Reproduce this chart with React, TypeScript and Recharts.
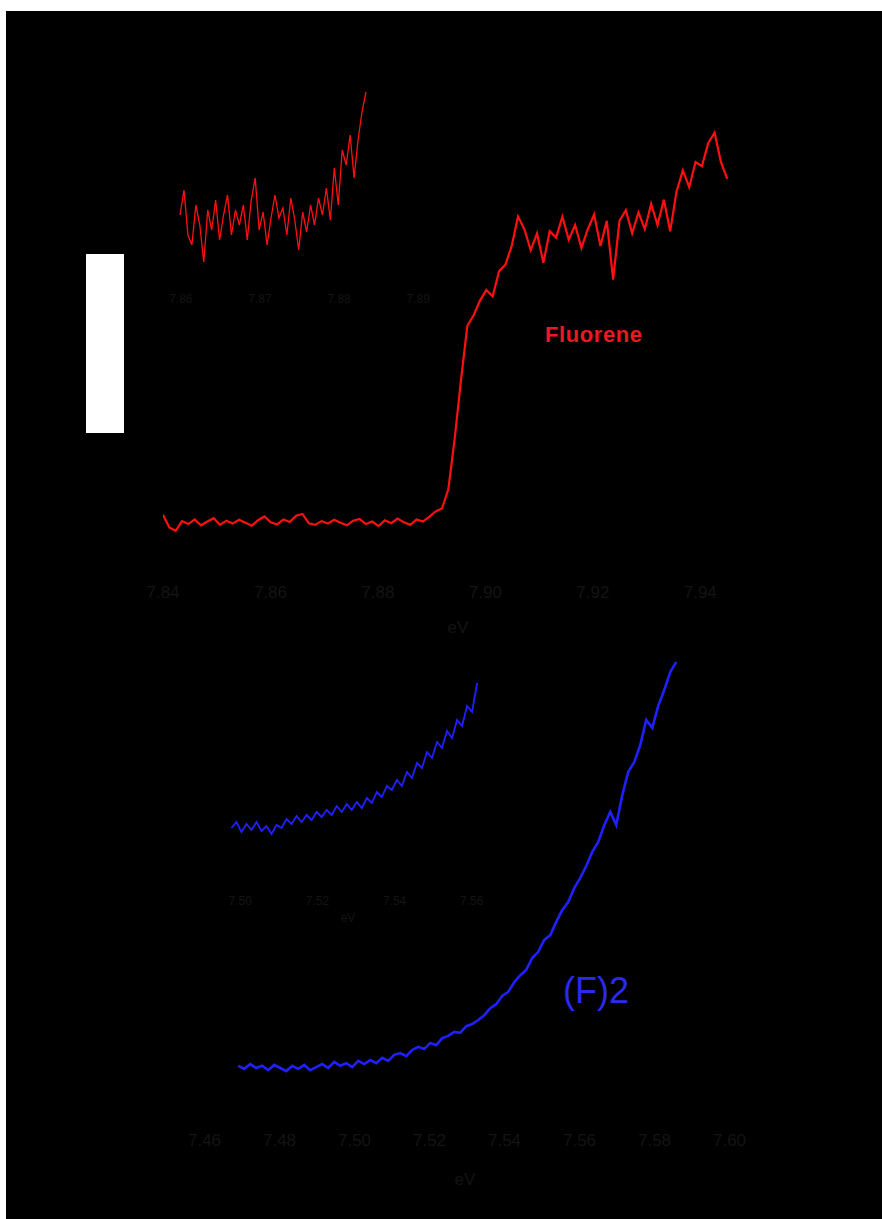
import { LineChart, Line, XAxis, YAxis } from "recharts";

const W = 882;
const H = 1219;

// Fluorene, main panel (eV vs. signal, arbitrary units 0-100)
const fluoreneTicks = [7.84, 7.86, 7.88, 7.9, 7.92, 7.94];
const fluoreneStart = 7.84;
const fluoreneStep = 0.00118;
const fluoreneSignal = [
  6.0, 3.0, 2.2, 4.5, 3.8, 4.9, 3.5, 4.4, 5.2, 3.6, 4.6, 3.9, 4.8, 4.1, 3.4, 4.7, 5.6, 4.2, 3.7, 4.9,
  4.3, 5.8, 6.2, 4.0, 3.6, 4.5, 3.9, 4.8, 4.1, 3.5, 4.6, 5.0, 3.8, 4.4, 3.3, 4.7, 4.0, 5.1, 4.2, 3.6,
  4.9, 4.4, 5.5, 6.8, 7.5, 12, 24, 38, 51, 53.5, 57, 59.5, 58, 64, 65.5, 70, 77, 74, 69, 73,
  66, 73.5, 72, 77, 71.5, 75, 69.5, 74, 77.5, 70, 76, 62, 76, 78.5, 73, 78, 74, 80, 75, 81,
  73.5, 83, 88, 84, 90, 89, 94.5, 97, 90, 86,
];

// Fluorene, onset inset
const fluoreneInsetTicks = [7.86, 7.87, 7.88, 7.89];
const fluoreneInsetStart = 7.8599;
const fluoreneInsetStep = 0.0005;
const fluoreneInsetSignal = [
  32.5, 45, 22.5, 17.5, 37.5, 27.5, 9, 35, 25, 40, 20, 32.5, 42.5, 22.5, 35, 27.5, 37.5, 20, 40, 51,
  25, 34, 17.5, 31, 42.5, 31, 36, 22.5, 41, 30, 15, 34, 24, 37.5, 27.5, 41, 32.5, 46, 30, 56,
  37.5, 65, 57.5, 72.5, 51, 70, 84, 94,
];

// (F)2, onset inset
const dimerInsetTicks = [7.5, 7.52, 7.54, 7.56];
const dimerInsetStart = 7.4977;
const dimerInsetStep = 0.0013;
const dimerInsetSignal = [
  21, 24, 19, 23, 20, 24, 19.5, 22, 18, 22.5, 21, 25.5, 23, 27, 24, 27.5, 25, 29, 26.5, 30,
  27.5, 32, 29, 33, 30, 34, 31, 36, 33.5, 39, 36.5, 42, 40, 45, 42, 49, 46, 53.5, 51, 59,
  56, 64, 61, 69.5, 66, 75, 72, 82, 79, 93.5,
];

// (F)2, main panel
const dimerTicks = [7.46, 7.48, 7.5, 7.52, 7.54, 7.56, 7.58, 7.6];
const dimerStart = 7.469;
const dimerStep = 0.0016;
const dimerSignal = [
  5.5, 4.8, 5.9, 5.0, 5.5, 4.5, 5.7, 5.0, 4.3, 5.5, 4.8, 5.7, 4.5, 5.2, 5.9, 5.0, 6.4, 5.5, 6.1, 5.2,
  6.6, 5.9, 6.8, 6.1, 7.3, 6.6, 8.0, 8.4, 7.7, 9.1, 9.8, 9.3, 10.7, 10.2, 11.8, 12.3, 13.2, 13.0, 14.5, 15.0,
  15.9, 17.0, 18.6, 19.5, 21.4, 22.3, 24.5, 26.1, 27.3, 30.0, 31.4, 34.1, 35.2, 38.2, 40.9, 42.7, 45.9, 48.2, 50.9, 54.1,
  56.4, 60.2, 63.2, 60.2, 67.0, 72.3, 74.5, 78.4, 84.1, 82.3, 87.3, 90.9, 95.0, 97.3,
];

const toRows = (start: number, step: number, values: number[]) =>
  values.map((v, i) => ({ e: +(start + i * step).toFixed(5), v }));

type PanelProps = {
  rows: { e: number; v: number }[];
  color: string;
  strokeWidth: number;
  domain: [number, number];
  ticks: number[];
  margin: { top: number; right: number; bottom: number; left: number };
  axisHeight: number;
  tickMargin: number;
  fontSize: number;
};

function Panel(p: PanelProps) {
  return (
    <div style={{ position: "absolute", left: 0, top: 0, pointerEvents: "none" }}>
      <LineChart width={W} height={H} data={p.rows} margin={p.margin}>
        <XAxis
          dataKey="e"
          type="number"
          domain={p.domain}
          ticks={p.ticks}
          allowDataOverflow
          axisLine={false}
          tickLine={false}
          tickSize={0}
          height={p.axisHeight}
          tickMargin={p.tickMargin}
          interval={0}
          tickFormatter={(t) => Number(t).toFixed(2)}
          tick={{ fill: "#141414", fontSize: p.fontSize, fontFamily: "Liberation Sans, Arial, sans-serif" }}
        />
        <YAxis hide domain={[0, 100]} />
        <Line
          dataKey="v"
          type="linear"
          stroke={p.color}
          strokeWidth={p.strokeWidth}
          dot={false}
          isAnimationActive={false}
        />
      </LineChart>
    </div>
  );
}

const label = (fontSize: number): React.CSSProperties => ({
  position: "absolute",
  fontFamily: "Liberation Sans, Arial, sans-serif",
  fontSize,
  lineHeight: 1,
  whiteSpace: "nowrap",
});

export default function App() {
  return (
    <div style={{ position: "absolute", left: 0, top: 0, width: W, height: H, overflow: "hidden" }}>
      <div style={{ position: "absolute", left: 6, top: 11, width: W - 6, height: H - 11, background: "#000" }} />
      <div style={{ position: "absolute", left: 86, top: 254, width: 38, height: 179, background: "#fff" }} />

      <Panel
        rows={toRows(fluoreneStart, fluoreneStep, fluoreneSignal)}
        color="#ff1010"
        strokeWidth={2.2}
        domain={[7.84, 7.95]}
        ticks={fluoreneTicks}
        margin={{ top: 120, right: 128, bottom: 619, left: 163 }}
        axisHeight={60}
        tickMargin={46}
        fontSize={17}
      />
      <Panel
        rows={toRows(fluoreneInsetStart, fluoreneInsetStep, fluoreneInsetSignal)}
        color="#ff1010"
        strokeWidth={1.3}
        domain={[7.858, 7.892]}
        ticks={fluoreneInsetTicks}
        margin={{ top: 80, right: 448, bottom: 909, left: 165 }}
        axisHeight={30}
        tickMargin={14}
        fontSize={12}
      />
      <Panel
        rows={toRows(dimerInsetStart, dimerInsetStep, dimerInsetSignal)}
        color="#2020ff"
        strokeWidth={1.8}
        domain={[7.495, 7.565]}
        ticks={dimerInsetTicks}
        margin={{ top: 670, right: 391, bottom: 319, left: 221 }}
        axisHeight={30}
        tickMargin={26}
        fontSize={12}
      />
      <Panel
        rows={toRows(dimerStart, dimerStep, dimerSignal)}
        color="#2020ff"
        strokeWidth={2.6}
        domain={[7.45, 7.63]}
        ticks={dimerTicks}
        margin={{ top: 650, right: 40, bottom: 59, left: 167 }}
        axisHeight={70}
        tickMargin={44}
        fontSize={17}
      />

      <div style={{ ...label(22), left: 545, top: 324, color: "#ee1820", fontWeight: 700, letterSpacing: 0.6 }}>Fluorene</div>
      <div style={{ ...label(36), left: 563, top: 973, color: "#2a2aee" }}>(F)2</div>
      <div style={{ ...label(17), left: 458, top: 619, color: "#141414", transform: "translateX(-50%)" }}>eV</div>
      <div style={{ ...label(12), left: 348, top: 912, color: "#141414", transform: "translateX(-50%)" }}>eV</div>
      <div style={{ ...label(17), left: 465, top: 1171, color: "#141414", transform: "translateX(-50%)" }}>eV</div>
    </div>
  );
}
